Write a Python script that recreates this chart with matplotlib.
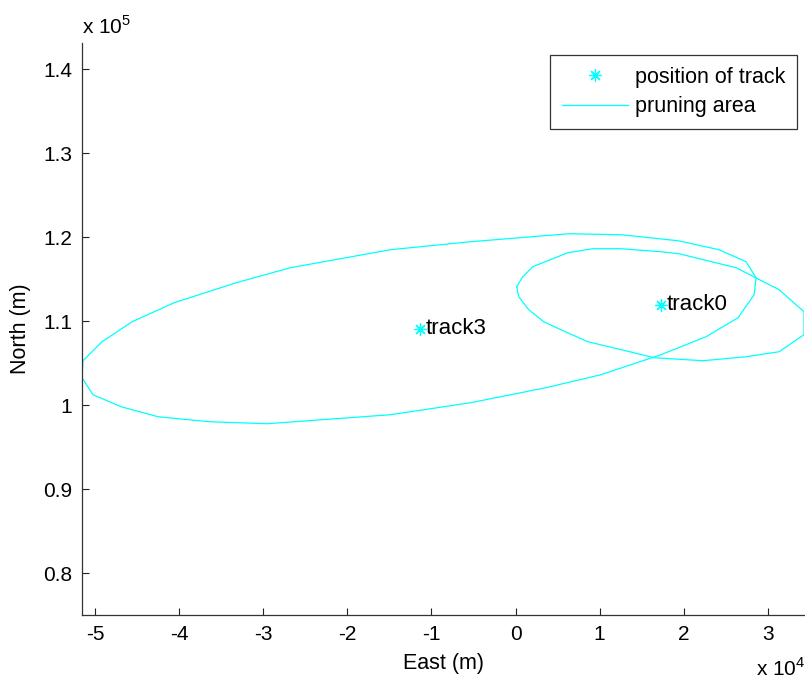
import numpy as np
import matplotlib
matplotlib.use("Agg")
import matplotlib.pyplot as plt
from matplotlib.ticker import FuncFormatter

plt.rcParams['font.family'] = ['Liberation Sans', 'DejaVu Sans']
plt.rcParams['mathtext.fontset'] = 'custom'
plt.rcParams['mathtext.rm'] = 'Liberation Sans'

# ── data (metres) ─────────────────────────────────────────────────────────────
track_names = ["track3", "track0"]
track_east  = [-11412, 17292]
track_north = [109083, 111940]

# pruning area around track3 (polygon vertices)
area3_east  = [-51548, -51429, -49166, -45593, -40591, -33207, -26776, -14866,
               -5338, 6334, 12528, 19316, 24199, 27415, 28606, 28368, 26462,
               22651, 17292, 10146, 3595, -5338, -14866, -29515, -36423,
               -42497, -46903, -50238, -51548]
area3_north = [103249, 105273, 107535, 109916, 112178, 114559, 116345, 118488,
               119440, 120393, 120273, 119559, 118488, 117059, 115154, 113130,
               110392, 108130, 105987, 103606, 102059, 100273, 98844, 97773,
               98011, 98606, 99797, 101226, 103249]

# pruning area around track0
area0_east  = [141, 855, 2047, 6215, 9193, 12528, 17292, 19435, 26224, 31345,
               34300, 34300, 31345, 27415, 22294, 16458, 14076, 8597, 5382,
               3357, 1570, 379, 141]
area0_north = [114083, 115273, 116464, 118131, 118607, 118607, 118250, 118012,
               116345, 113726, 111107, 108369, 106345, 105749, 105273, 105630,
               106226, 107535, 108964, 109916, 111345, 112892, 114083]

x_ticks = [-5e4, -4e4, -3e4, -2e4, -1e4, 0, 1e4, 2e4, 3e4]
y_ticks = [0.8e5, 0.9e5, 1.0e5, 1.1e5, 1.2e5, 1.3e5, 1.4e5]

# ── figure ────────────────────────────────────────────────────────────────────
W, H = 805, 686
fig = plt.figure(figsize=(W / 100, H / 100), dpi=100)
ax = fig.add_axes([82 / W, (H - 615) / H, (804 - 82) / W, (615 - 43) / H])

fs = 15
cyan = "#00FFFF"
star = (8, 2, 0)
ax.plot(track_east, track_north, linestyle="none", marker=star, markersize=9,
        color=cyan, markeredgewidth=0.9, label="position of track")
ax.plot(area3_east, area3_north, color=cyan, lw=0.9, label="pruning area")
ax.plot(area0_east, area0_north, color=cyan, lw=0.9)

for name, e, n in zip(track_names, track_east, track_north):
    ax.text(e + 700, n, name, fontsize=fs + 1, va="center", ha="left")

ax.set_xlim(min(area3_east), max(area0_east))
ax.set_ylim(75000, 143100)

ax.set_xticks(x_ticks)
ax.set_yticks(y_ticks)
ax.xaxis.set_major_formatter(FuncFormatter(lambda v, p: f"{v / 1e4:g}"))
ax.yaxis.set_major_formatter(FuncFormatter(lambda v, p: f"{v / 1e5:g}"))
ax.tick_params(direction="in", length=5, width=0.8, labelsize=fs, pad=7,
               colors="#222222", labelcolor="black")

for s in ["top", "right"]:
    ax.spines[s].set_visible(False)
for s in ["left", "bottom"]:
    ax.spines[s].set_linewidth(0.9)
    ax.spines[s].set_color("#333333")

ax.set_xlabel("East (m)", fontsize=fs + 0.5, labelpad=7)
ax.set_ylabel("North (m)", fontsize=fs + 0.5, labelpad=9)

# exponent labels in MATLAB style
fig.text(82 / W, 1 - 27 / H, r"x 10$^{5}$", fontsize=fs, va="center", ha="left")
fig.text(805 / W, 1 - 668 / H, r"x 10$^{4}$", fontsize=fs, va="center", ha="right")

leg = ax.legend(loc="upper right", bbox_to_anchor=((797 - 82) / (804 - 82), (615 - 55) / (615 - 43)),
                fontsize=fs + 0.5, frameon=True, fancybox=False, edgecolor="black",
                handlelength=3.1, handletextpad=0.3, borderpad=0.55, labelspacing=0.4,
                borderaxespad=0)
leg.get_frame().set_linewidth(0.9)

fig.savefig("out.png", dpi=100)
